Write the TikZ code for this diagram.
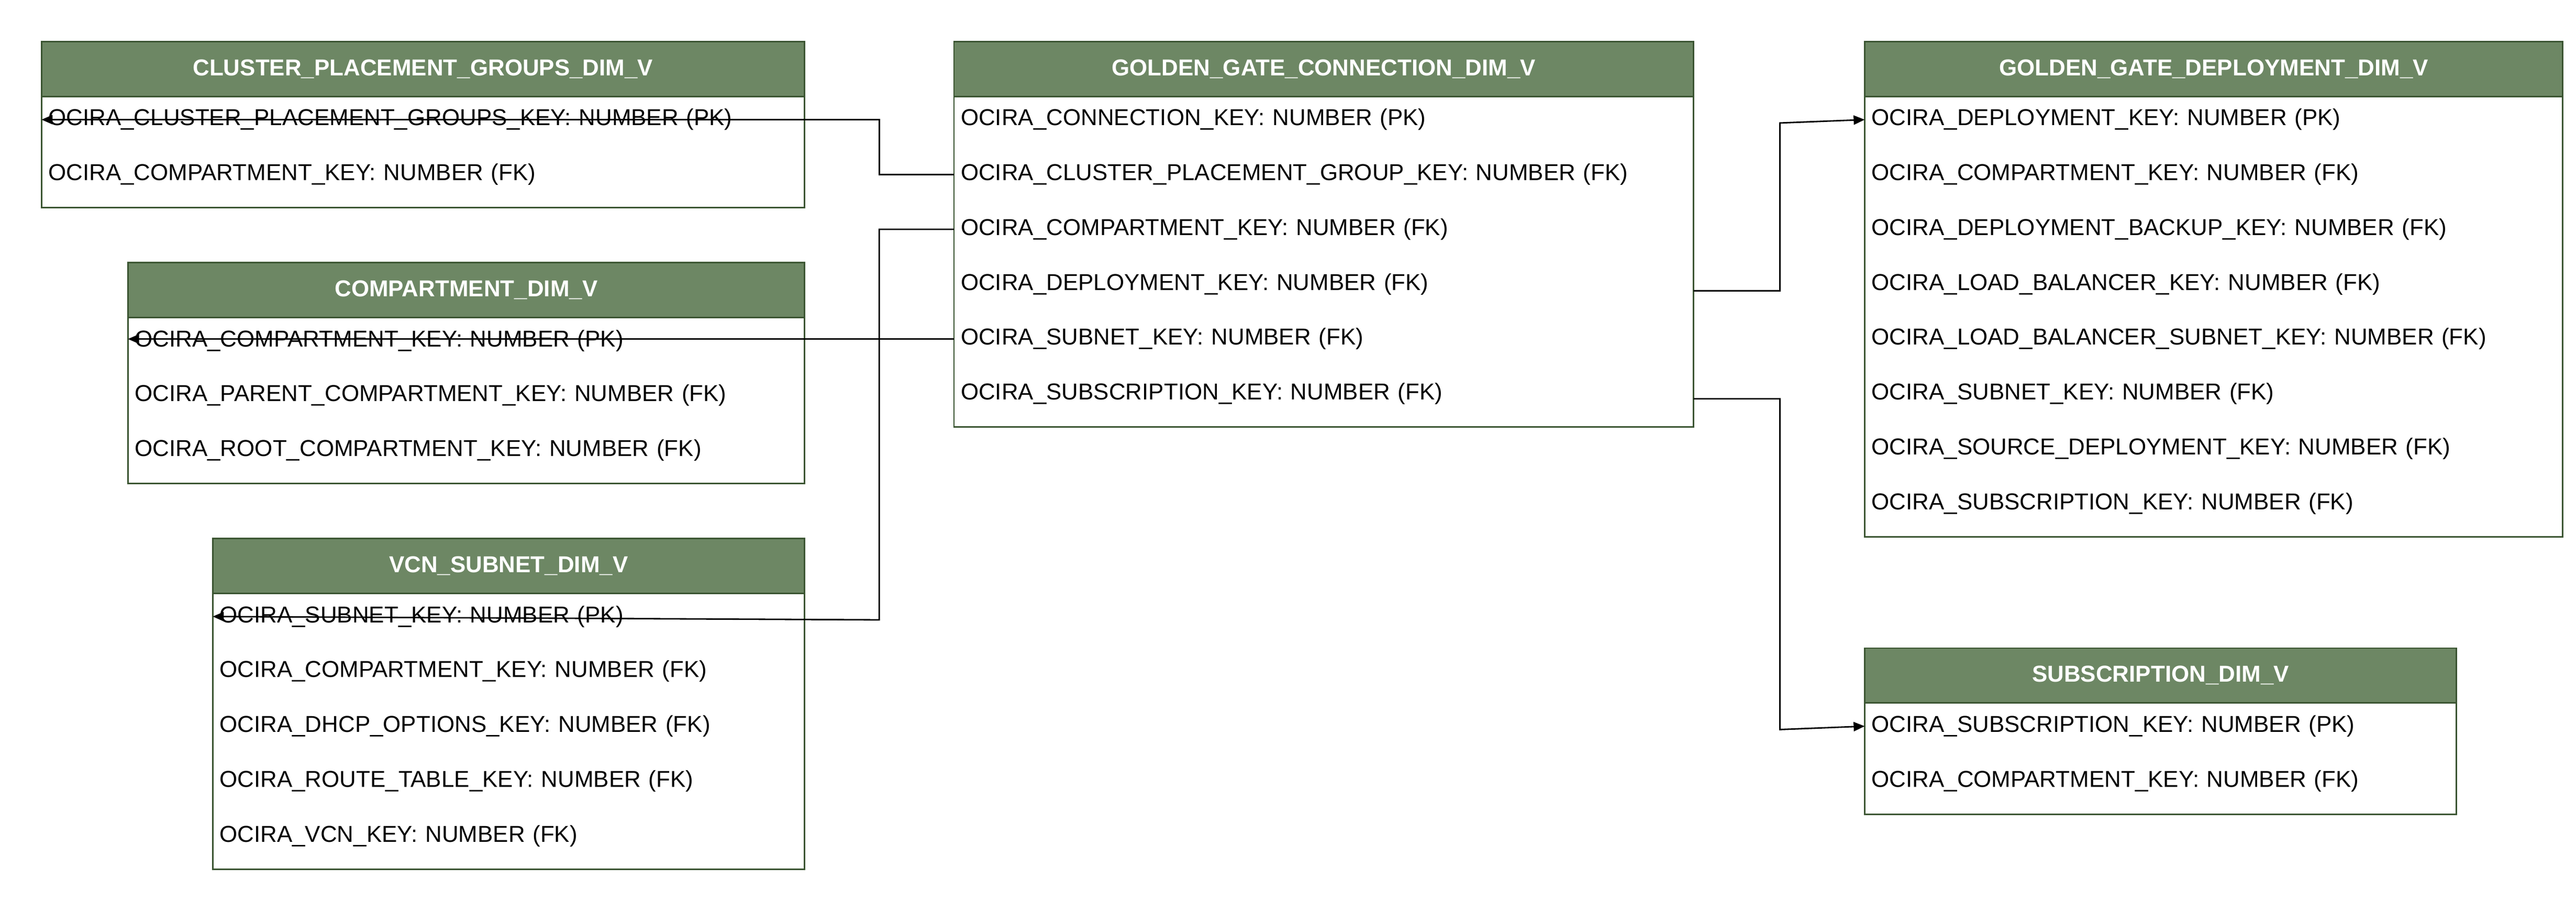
\documentclass[tikz,border=0pt]{standalone}
\usepackage{fontspec}
\setmainfont{Liberation Sans}
\usetikzlibrary{arrows.meta}
\definecolor{hdr}{HTML}{6D8764}
\definecolor{edge}{HTML}{3A5431}
\tikzset{
  box/.style={draw=edge, line width=0.8pt},
  hd/.style={fill=hdr, draw=edge, line width=0.8pt},
  htxt/.style={text=white, font=\bfseries\fontsize{12.5}{14}\selectfont},
  row/.style={anchor=west, inner ysep=0pt, inner xsep=3.5pt, align=left, font=\fontsize{12.5}{14}\selectfont, minimum height=8mm},
  conn/.style={draw=black, line width=0.8pt, -{Triangle[length=6pt,width=5pt]}}
}
% \tbl{name}{x1}{x2}{ytop}{title}{nrows}{rows}
\newcommand{\tbl}[7]{%
  \pgfmathsetmacro{\wid}{(#3-#2)*0.3174}%
  \pgfmathsetmacro{\bot}{#4+33+14+33*(#6-1)+20}%
  \draw[box,fill=white] (#2,#4) rectangle (#3,\bot);
  \draw[hd] (#2,#4) rectangle (#3,#4+33);
  \node[htxt] (#1-h) at ({(#2+#3)/2},#4+16.5) {#5};
  \foreach \t [count=\i] in {#7} {
    \node[row, text width=\wid mm - 7pt] (#1-\i) at (#2,{#4+33+14+33*(\i-1)}) {\t};
  }%
}
\begin{document}
\begin{tikzpicture}[x=0.3174mm,y=-0.3174mm]
\useasboundingbox (0,0) rectangle (1550,541.9);
\tbl{cpg}{25}{484}{25}{CLUSTER\_PLACEMENT\_GROUPS\_DIM\_V}{2}{OCIRA\_CLUSTER\_PLACEMENT\_GROUPS\_KEY: NUMBER (PK),OCIRA\_COMPARTMENT\_KEY: NUMBER (FK)}
\tbl{cmp}{77}{484}{158}{COMPARTMENT\_DIM\_V}{3}{OCIRA\_COMPARTMENT\_KEY: NUMBER (PK),OCIRA\_PARENT\_COMPARTMENT\_KEY: NUMBER (FK),OCIRA\_ROOT\_COMPARTMENT\_KEY: NUMBER (FK)}
\tbl{vcn}{128}{484}{324}{VCN\_SUBNET\_DIM\_V}{5}{OCIRA\_SUBNET\_KEY: NUMBER (PK),OCIRA\_COMPARTMENT\_KEY: NUMBER (FK),OCIRA\_DHCP\_OPTIONS\_KEY: NUMBER (FK),OCIRA\_ROUTE\_TABLE\_KEY: NUMBER (FK),OCIRA\_VCN\_KEY: NUMBER (FK)}
\tbl{ggc}{574}{1019}{25}{GOLDEN\_GATE\_CONNECTION\_DIM\_V}{6}{OCIRA\_CONNECTION\_KEY: NUMBER (PK),OCIRA\_CLUSTER\_PLACEMENT\_GROUP\_KEY: NUMBER (FK),OCIRA\_COMPARTMENT\_KEY: NUMBER (FK),OCIRA\_DEPLOYMENT\_KEY: NUMBER (FK),OCIRA\_SUBNET\_KEY: NUMBER (FK),OCIRA\_SUBSCRIPTION\_KEY: NUMBER (FK)}
\tbl{ggd}{1122}{1542}{25}{GOLDEN\_GATE\_DEPLOYMENT\_DIM\_V}{8}{OCIRA\_DEPLOYMENT\_KEY: NUMBER (PK),OCIRA\_COMPARTMENT\_KEY: NUMBER (FK),OCIRA\_DEPLOYMENT\_BACKUP\_KEY: NUMBER (FK),OCIRA\_LOAD\_BALANCER\_KEY: NUMBER (FK),OCIRA\_LOAD\_BALANCER\_SUBNET\_KEY: NUMBER (FK),OCIRA\_SUBNET\_KEY: NUMBER (FK),OCIRA\_SOURCE\_DEPLOYMENT\_KEY: NUMBER (FK),OCIRA\_SUBSCRIPTION\_KEY: NUMBER (FK)}
\tbl{sub}{1122}{1478}{390}{SUBSCRIPTION\_DIM\_V}{2}{OCIRA\_SUBSCRIPTION\_KEY: NUMBER (PK),OCIRA\_COMPARTMENT\_KEY: NUMBER (FK)}
\coordinate (ggcR) at (1019,175);
\coordinate (ggcR2) at (1019,240);
\draw[conn] (ggc-2.west) -| (529,72) -- (cpg-1.west);
\draw[conn] (ggc-3.west) -| (529,373) -- (vcn-1.west);
\draw[conn] (ggc-5.west) -- (cmp-1.west |- ggc-5.west);
\draw[conn] (ggcR) -| (1071,74) -- (ggd-1.west);
\draw[conn] (ggcR2) -| (1071,439) -- (sub-1.west);
\end{tikzpicture}
\end{document}
